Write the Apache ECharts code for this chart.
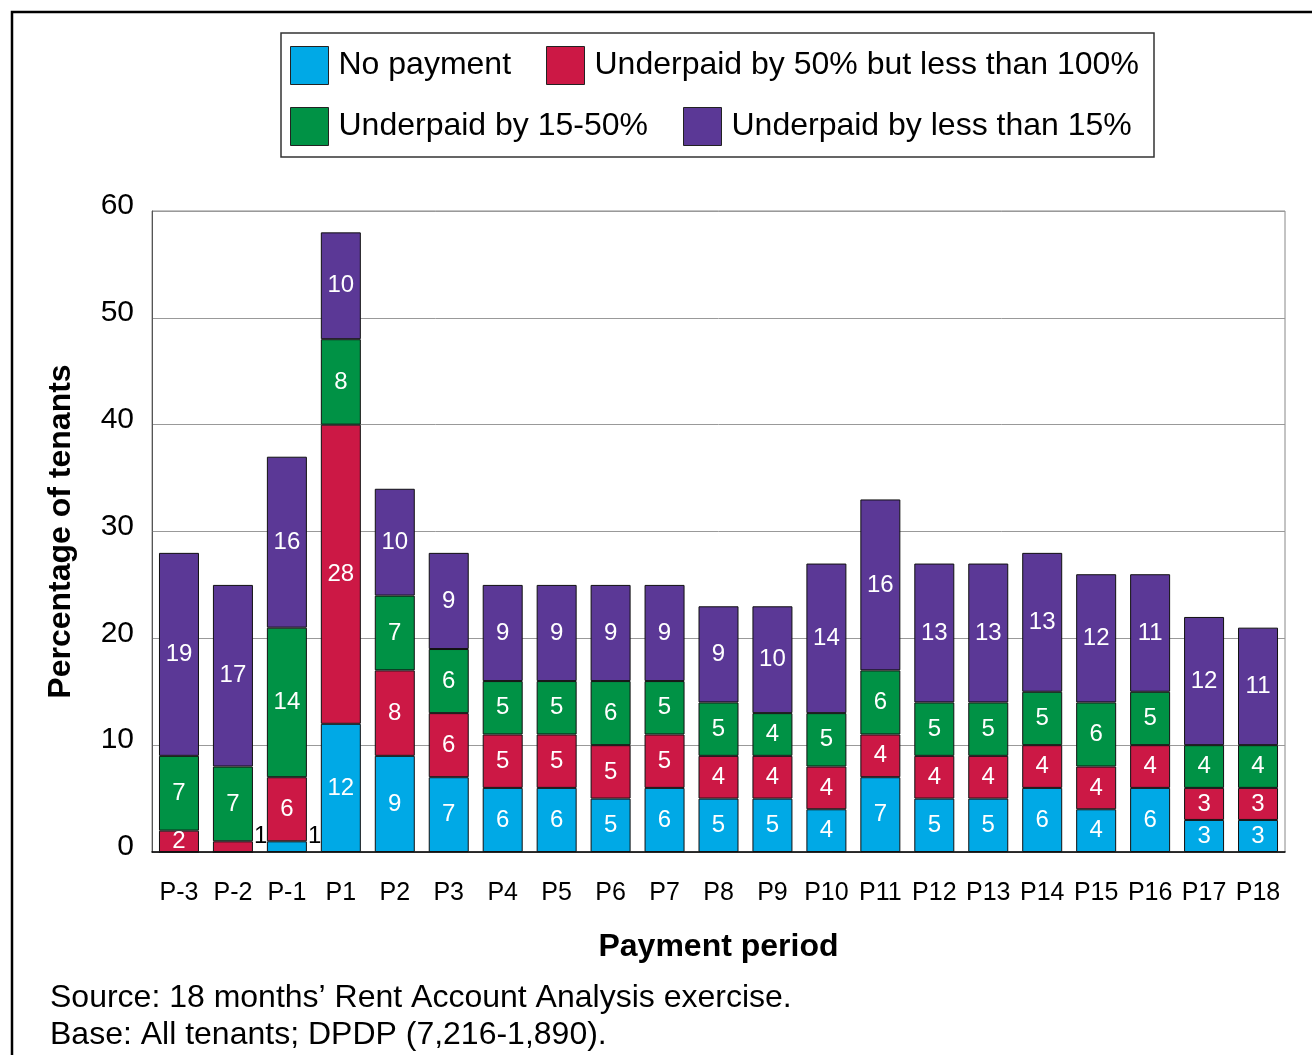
<!DOCTYPE html>
<html>
<head>
<meta charset="utf-8">
<script src="https://cdn.jsdelivr.net/npm/echarts@6/dist/echarts.min.js"></script>
<style>
  html, body { margin: 0; padding: 0; background: #fff; }
  #chart { width: 1312px; height: 1055px; }
</style>
</head>
<body>
<div id="chart"></div>
<script>
// payment periods
const periods = ['P-3', 'P-2', 'P-1', 'P1', 'P2', 'P3', 'P4', 'P5', 'P6', 'P7', 'P8', 'P9',
  'P10', 'P11', 'P12', 'P13', 'P14', 'P15', 'P16', 'P17', 'P18'];

// percentage of tenants, per category (bottom to top of stack)
const noPayment  = [0, 0, 1, 12, 9, 7, 6, 6, 5, 6, 5, 5, 4, 7, 5, 5, 6, 4, 6, 3, 3];
const under50    = [2, 1, 6, 28, 8, 6, 5, 5, 5, 5, 4, 4, 4, 4, 4, 4, 4, 4, 4, 3, 3];
const under15to50 = [7, 7, 14, 8, 7, 6, 5, 5, 6, 5, 5, 4, 5, 6, 5, 5, 5, 6, 5, 4, 4];
const underLess15 = [19, 17, 16, 10, 10, 9, 9, 9, 9, 9, 9, 10, 14, 16, 13, 13, 13, 12, 11, 12, 11];

const yTicks = [0, 10, 20, 30, 40, 50, 60];

const seriesNames = ['No payment', 'Underpaid by 50% but less than 100%',
  'Underpaid by 15-50%', 'Underpaid by less than 15%'];
const seriesColors = ['#00a9e6', '#cc1845', '#009245', '#5b3896'];
const seriesData = [noPayment, under50, under15to50, underLess15];

const FONT = '"Liberation Sans", Arial, Helvetica, sans-serif';

const chart = echarts.init(document.getElementById('chart'));

// tiny segments get their label outside, in black
const toItems = (arr) => arr.map(v => {
  if (v === 1) {
    return {
      value: v,
      label: { position: 'right', color: '#000', distance: 1, offset: [0, -10] }
    };
  }
  return v;
});

const series = seriesNames.map((name, i) => ({
  name,
  type: 'bar',
  stack: 'total',
  barWidth: 40,
  data: toItems(seriesData[i]),
  itemStyle: { color: seriesColors[i], borderColor: '#111', borderWidth: 1 },
  label: {
    show: true,
    position: 'inside',
    color: '#fff',
    fontFamily: FONT,
    fontSize: 24,
    formatter: (p) => (p.value ? String(p.value) : '')
  }
}));

// legend laid out like the original: two rows, columns not aligned
const legendPos = [[290, 46], [546, 46], [290, 107], [683, 107]];
const legends = seriesNames.map((name, i) => ({
  data: [name],
  left: legendPos[i][0],
  top: legendPos[i][1],
  padding: 0,
  itemWidth: 38,
  itemHeight: 38,
  icon: 'rect',
  itemStyle: { borderColor: '#222', borderWidth: 1 },
  textStyle: { fontFamily: FONT, fontSize: 32, color: '#000', padding: [0, 0, 0, 5] },
  selectedMode: false,
  z: 5
}));

const option = {
  animation: false,
  textStyle: { fontFamily: FONT },
  legend: legends,
  graphic: [
    {
      type: 'rect',
      z: 1,
      shape: { x: 12, y: 12, width: 1400, height: 1100 },
      style: { fill: 'none', stroke: '#000', lineWidth: 2.5 }
    },
    {
      type: 'rect',
      z: 1,
      shape: { x: 281, y: 33, width: 873, height: 124 },
      style: { fill: '#fff', stroke: '#333', lineWidth: 1.5 }
    },
    {
      type: 'text',
      left: 50,
      top: 982,
      style: { text: 'Source: 18 months’ Rent Account Analysis exercise.', font: '32px ' + FONT, fill: '#000' }
    },
    {
      type: 'text',
      left: 50,
      top: 1019,
      style: { text: 'Base: All tenants; DPDP (7,216-1,890).', font: '32px ' + FONT, fill: '#000' }
    }
  ],
  grid: {
    left: 152,
    right: 27,
    top: 211,
    bottom: 203,
    show: true,
    borderColor: '#888',
    borderWidth: 1
  },
  xAxis: {
    type: 'category',
    data: periods,
    name: 'Payment period',
    nameLocation: 'middle',
    nameGap: 79,
    nameTextStyle: { fontFamily: FONT, fontSize: 32, fontWeight: 'bold', color: '#000' },
    axisLine: { lineStyle: { color: '#000', width: 1.5 } },
    axisTick: { show: false },
    axisLabel: { interval: 0, fontSize: 25, color: '#000', margin: 29, fontFamily: FONT }
  },
  yAxis: {
    type: 'value',
    min: yTicks[0],
    max: yTicks[yTicks.length - 1],
    interval: 10,
    name: 'Percentage of tenants',
    nameLocation: 'middle',
    nameGap: 75,
    nameRotate: 90,
    nameTextStyle: { fontFamily: FONT, fontSize: 32, fontWeight: 'bold', color: '#000' },
    axisLine: { show: true, lineStyle: { color: '#555', width: 1 } },
    axisTick: { show: false },
    axisLabel: {
      fontSize: 30, color: '#000', margin: 18, fontFamily: FONT,
      verticalAlign: 'bottom', lineHeight: 10
    },
    splitLine: { show: true, lineStyle: { color: '#999', width: 1 } }
  },
  series
};

chart.setOption(option);
</script>
</body>
</html>
